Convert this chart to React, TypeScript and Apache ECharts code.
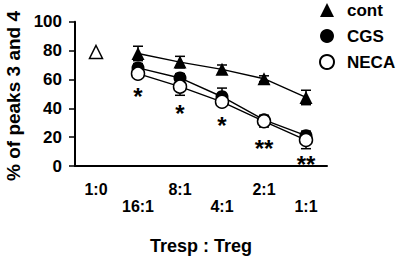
import React, { useEffect, useRef } from "react";
import * as echarts from "echarts";

const categories = ["1:0", "16:1", "8:1", "4:1", "2:1", "1:1"];
const contMean: (number | string)[] = ["-", 78, 72, 67, 60.5, 47.5];
const contErr = [0, 5, 4, 3, 2, 5];
const baseline: (number | string)[] = [79, "-", "-", "-", "-", "-"];
const cgsMean: (number | string)[] = ["-", 68, 61, 48, 32, 21];
const cgsErr = [0, 3, 3, 6, 3, 3];
const necaMean: (number | string)[] = ["-", 64, 55, 44.5, 31, 18];
const necaErr = [0, 3, 6, 3, 4, 6];
const starLabels = ["", "*", "*", "*", "**", "**"];
const starPos: (number | string)[] = ["-", 52, 40, 32, 16, 5];
const yTicks = { min: 0, max: 100, interval: 20 };

const FONT = "'Liberation Sans', Arial, Helvetica, sans-serif";

function errData(mean: (number | string)[], err: number[]) {
  const out: number[][] = [];
  mean.forEach((m, i) => {
    if (typeof m === "number" && err[i] > 0) out.push([i, m - err[i], m + err[i]]);
  });
  return out;
}

export default function App() {
  const ref = useRef<HTMLDivElement>(null);
  useEffect(() => {
    const chart = echarts.init(ref.current!, null, { renderer: "svg" });
    const allErr = [
      ...errData(contMean, contErr),
      ...errData(cgsMean, cgsErr),
      ...errData(necaMean, necaErr),
    ];
    chart.setOption({
      animation: false,
      backgroundColor: "#fff",
      textStyle: { fontFamily: FONT },
      grid: { left: 75, right: 70, top: 21.7, bottom: 86, containLabel: false },
      legend: {
        orient: "vertical",
        left: 319,
        top: 0,
        padding: 0,
        itemWidth: 14,
        itemHeight: 14,
        itemGap: 6,
        data: [
          { name: "cont", icon: "triangle" },
          { name: "CGS", icon: "circle" },
          { name: "NECA", icon: "circle" },
        ],
        textStyle: {
          fontSize: 17,
          lineHeight: 20,
          fontWeight: "bold",
          color: "#000",
          fontFamily: FONT,
          padding: [0, 0, 0, 8],
        },
      },
      graphic: [
        {
          type: "text",
          x: 13,
          y: 96,
          rotation: Math.PI / 2,
          style: {
            text: "% of peaks 3 and 4",
            fontSize: 19,
            fontWeight: "bold",
            fontFamily: FONT,
            fill: "#000",
            align: "center",
            verticalAlign: "middle",
          },
        },
      ],
      xAxis: {
        type: "category",
        data: categories,
        boundaryGap: true,
        name: "Tresp : Treg",
        nameLocation: "middle",
        nameGap: 71,
        nameTextStyle: { fontSize: 18, fontWeight: "bold", color: "#000", fontFamily: FONT },
        axisLine: { lineStyle: { color: "#000", width: 2 } },
        axisTick: { alignWithLabel: true, length: 6, lineStyle: { color: "#000", width: 1.5 } },
        axisLabel: {
          interval: 0,
          margin: 15,
          fontSize: 16,
          fontWeight: "bold",
          color: "#000",
          lineHeight: 17,
          fontFamily: FONT,
          formatter: (v: string, i: number) => (i % 2 ? "\n" + v : v),
        },
        splitLine: { show: false },
      },
      yAxis: {
        type: "value",
        min: yTicks.min,
        max: yTicks.max,
        interval: yTicks.interval,
        axisLine: { show: true, lineStyle: { color: "#000", width: 2 } },
        axisTick: { show: true, length: 6, lineStyle: { color: "#000", width: 1.5 } },
        axisLabel: { margin: 13, fontSize: 17, fontWeight: "bold", color: "#000", fontFamily: FONT },
        splitLine: { show: false },
      },
      series: [
        {
          type: "custom",
          name: "err",
          z: 1,
          data: allErr,
          renderItem: (params: any, api: any) => {
            const lo = api.coord([api.value(0), api.value(1)]);
            const hi = api.coord([api.value(0), api.value(2)]);
            const w = 5;
            const st = { stroke: "#000", lineWidth: 1.5 };
            return {
              type: "group",
              children: [
                { type: "line", shape: { x1: lo[0], y1: lo[1], x2: hi[0], y2: hi[1] }, style: st },
                { type: "line", shape: { x1: hi[0] - w, y1: hi[1], x2: hi[0] + w, y2: hi[1] }, style: st },
                { type: "line", shape: { x1: lo[0] - w, y1: lo[1], x2: lo[0] + w, y2: lo[1] }, style: st },
              ],
            };
          },
        },
        {
          type: "line",
          name: "cont",
          z: 3,
          data: contMean,
          symbol: "triangle",
          symbolSize: 13,
          lineStyle: { color: "#000", width: 1.4 },
          itemStyle: { color: "#000" },
        },
        {
          type: "line",
          name: "CGS",
          z: 3,
          data: cgsMean,
          symbol: "circle",
          symbolSize: 13,
          lineStyle: { color: "#000", width: 1.4 },
          itemStyle: { color: "#000" },
        },
        {
          type: "line",
          name: "NECA",
          z: 4,
          data: necaMean,
          symbol: "circle",
          symbolSize: 13,
          lineStyle: { color: "#000", width: 1.4 },
          itemStyle: { color: "#fff", borderColor: "#000", borderWidth: 1.5 },
        },
        {
          type: "scatter",
          name: "base",
          z: 3,
          data: baseline,
          symbol: "triangle",
          symbolSize: 13,
          itemStyle: { color: "#fff", borderColor: "#000", borderWidth: 1.5, opacity: 1 },
        },
        {
          type: "scatter",
          name: "stars",
          z: 5,
          data: starPos,
          symbolSize: 0,
          itemStyle: { opacity: 1 },
          label: {
            show: true,
            position: "inside",
            offset: [0, 5.5],
            formatter: (p: any) => starLabels[p.dataIndex],
            fontSize: 24,
            fontWeight: "bold",
            color: "#000",
            fontFamily: FONT,
          },
        },
      ],
    });
    return () => chart.dispose();
  }, []);
  return (
    <div
      ref={ref}
      style={{ position: "fixed", left: 0, top: 0, width: 397, height: 260 }}
    />
  );
}
